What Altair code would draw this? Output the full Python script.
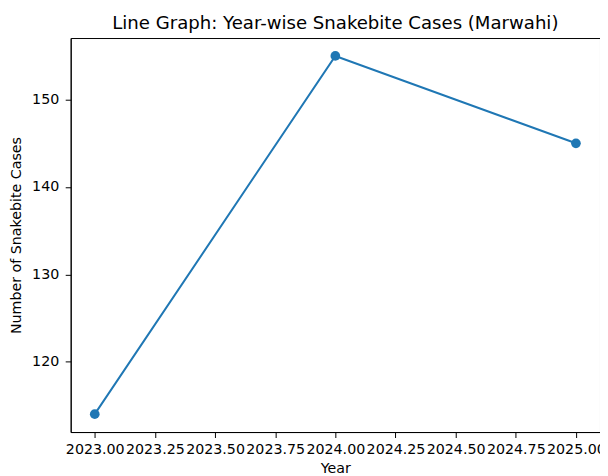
import altair as alt
import pandas as pd

years = [2023, 2024, 2025]
cases = [114, 155, 145]
x_ticks = [2023.0, 2023.25, 2023.5, 2023.75, 2024.0, 2024.25, 2024.5, 2024.75, 2025.0]
y_ticks = [120, 130, 140, 150]

df = pd.DataFrame({"Year": years, "Cases": cases})

FONT = "DejaVu Sans"
BLUE = "#1f77b4"
FS = 14.3

x = alt.X("Year:Q", title="Year",
          scale=alt.Scale(domain=[2022.9, 2025.1], nice=False, zero=False),
          axis=alt.Axis(values=x_ticks, format=".2f", labelOverlap=False, labelFlush=False,
                        labelBound=False, grid=False, tickSize=5.5, tickColor="black",
                        domainColor="black", labelColor="black", labelFontSize=FS,
                        labelFont=FONT, titleFont=FONT, titleFontSize=FS,
                        titleFontWeight="normal", titleColor="black", labelPadding=5,
                        titlePadding=5))
y = alt.Y("Cases:Q", title="Number of Snakebite Cases",
          scale=alt.Scale(domain=[111.95, 157.05], nice=False, zero=False),
          axis=alt.Axis(values=y_ticks, grid=False, tickSize=5.5, tickColor="black",
                        domainColor="black", labelColor="black", labelFontSize=FS,
                        labelFont=FONT, titleFont=FONT, titleFontSize=FS,
                        titleFontWeight="normal", titleColor="black", labelPadding=6.5,
                        titlePadding=8))

base = alt.Chart(df).encode(x=x, y=y)
line = base.mark_line(color=BLUE, strokeWidth=2)
pts = base.mark_point(color=BLUE, filled=True, opacity=1, size=95)

chart = (line + pts).properties(
    width=532, height=396,
    title=alt.TitleParams("Line Graph: Year-wise Snakebite Cases (Marwahi)", font=FONT,
                          fontSize=18.2, fontWeight="normal", color="black", offset=5),
    autosize=alt.AutoSizeParams(type="none"),
    padding={"left": 63, "top": 29, "right": 0, "bottom": 43},
).configure_view(stroke="black", strokeWidth=1)

chart.save("out.html", embed_options={"renderer": "svg", "actions": False})
